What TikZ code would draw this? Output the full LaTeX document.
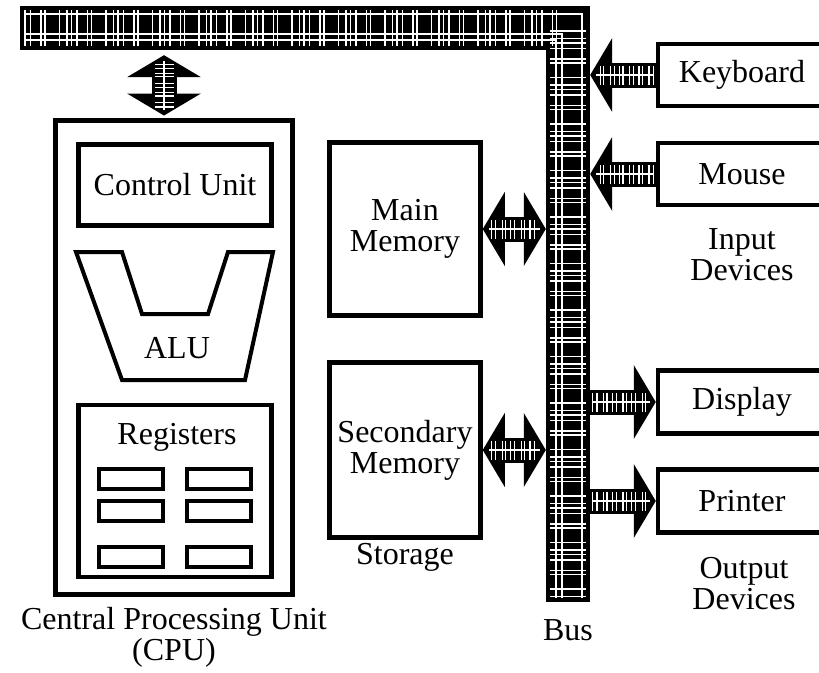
\documentclass[tikz,border=0pt]{standalone}
\usepackage{fontspec}
\setmainfont{Liberation Serif}
\usetikzlibrary{arrows.meta, positioning}
\tikzstyle{unit} = [
    draw,
    rectangle,
    line width=4.5pt,
    align=center,
    inner sep=0pt
]
\tikzstyle{cell} = [
    draw,
    rectangle,
    line width=4pt,
    minimum width=64pt,
    minimum height=20pt
]
\tikzstyle{busbar} = [
    line width=44pt,
    line join=miter,
    postaction={draw=white, line width=36pt, shorten <=4pt, shorten >=4pt,
        dash pattern=on 1.5pt off 4pt on 1.5pt off 9pt on 1.5pt off 2.5pt on 1.5pt off 13pt on 1.5pt off 6pt on 1.5pt off 3pt}
]
\tikzstyle{busline} = [white, line width=1.5pt]
\tikzstyle{stripes} = [
    draw=white,
    -,
    line width=19pt,
    dash pattern=on 1.2pt off 3pt on 1.2pt off 5.5pt on 1.2pt off 2pt on 1.2pt off 4pt
]
\tikzstyle{blockarrow} = [
    line width=25pt,
    >={Triangle[length=22pt 0 0, width=74pt 0 0, line width=0pt]}
]
\tikzstyle{dblarrow} = [
    blockarrow,
    <->,
    postaction={stripes, shorten <=8pt, shorten >=8pt},
    postaction={draw=white, -, line width=1.2pt, shorten <=6pt, shorten >=6pt}
]
\tikzstyle{onearrow} = [
    blockarrow,
    ->,
    postaction={stripes, shorten <=2pt, shorten >=8pt},
    postaction={draw=white, -, line width=1.2pt, shorten <=2pt, shorten >=6pt}
]

\begin{document}
\begin{tikzpicture}[x=1pt, y=-1pt, font=\fontsize{32}{31}\selectfont]
    \useasboundingbox (0,0) rectangle (819,672);

    % bus
    \coordinate (bus start) at (20,28);
    \coordinate (bus corner) at (568,28);
    \coordinate (bus end) at (568,602);
    \node (bus) [inner sep=0pt, minimum width=44pt, minimum height=596pt] at (568,304) {};
    \node (hbus) [inner sep=0pt, minimum width=548pt, minimum height=44pt] at (294,28) {};
    \draw[busbar] (bus start) -- (bus corner) -- (bus end);
    \foreach \y in {14,34,40}
        \draw[busline] (24,\y) -| ({596-\y},598);
    \node (buslabel) [below=14pt of bus] {Bus};

    % cpu
    \node (cpu) [unit, line width=5pt, minimum width=237pt, minimum height=474pt] at (174,357) {};
    \node (control) [unit, minimum width=193pt, minimum height=81pt] at (175,185) {Control Unit};
    \draw[line width=4pt, line join=miter] (76,252) -- (122,252) -- (142,314) -- (208,314)
        -- (228,252) -- (273,252) -- (245,380) -- (122,380) -- cycle;
    \node (alu) at (177,348) {ALU};
    \node (registers) [unit, minimum width=193pt, minimum height=172pt] at (175,491) {};
    \node (reglabel) at (177,437) {Registers};
    \foreach \y in {479,511,557} {
        \node (regA\y) [cell] at (131,\y) {};
        \node (regB\y) [cell] at (219,\y) {};
    }
    \node (cpulabel) [align=center] at (174,637) {Central Processing Unit\\(CPU)};

    % storage
    \node (main) [unit, minimum width=151pt, minimum height=173pt] at (405,229) {Main\\Memory};
    \node (secondary) [unit, minimum width=151pt, minimum height=175pt] at (405,450) {Secondary\\Memory};
    \node (storage) at (405,557) {Storage};

    % devices
    \node (keyboard) [unit, minimum width=168pt, minimum height=62pt] at (742,75) {Keyboard};
    \node (mouse) [unit, minimum width=168pt, minimum height=62pt, below of=keyboard, node distance=99pt] {Mouse};
    \node (inputlabel) [align=center] at (742,255) {Input\\Devices};
    \node (display) [unit, minimum width=168pt, minimum height=63pt] at (742,402) {Display};
    \node (printer) [unit, minimum width=168pt, minimum height=63pt, below of=display, node distance=99pt] {Printer};
    \node (outputlabel) [align=center] at (744,584) {Output\\Devices};

    % arrows
    \draw[dblarrow] ([xshift=-10pt,yshift=2pt]cpu.north) -- ([xshift=-10pt,yshift=-5pt]cpu.north |- hbus.south);
    \draw[dblarrow] (main.east) -- (main.east -| bus.west);
    \draw[dblarrow] (secondary.east) -- (secondary.east -| bus.west);
    \draw[onearrow] (keyboard.west) -- (keyboard.west -| bus.east);
    \draw[onearrow] (mouse.west) -- (mouse.west -| bus.east);
    \draw[onearrow] (display.west -| bus.east) -- (display.west);
    \draw[onearrow] (printer.west -| bus.east) -- (printer.west);
\end{tikzpicture}
\end{document}
